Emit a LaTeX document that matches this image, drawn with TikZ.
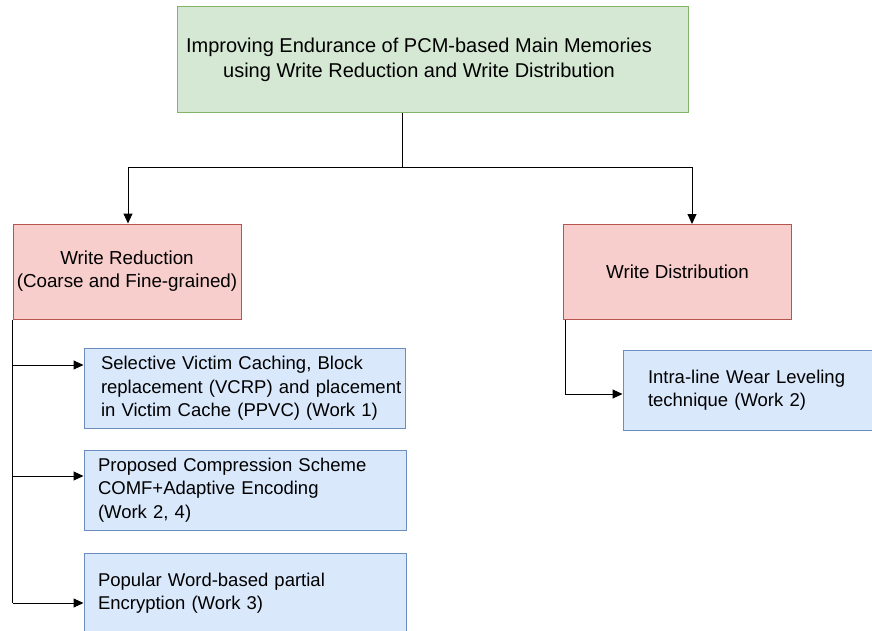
\documentclass[tikz,border=0pt]{standalone}
\usepackage{fontspec}
\setmainfont{Liberation Sans}
\usetikzlibrary{arrows.meta,positioning}
\definecolor{rootfill}{HTML}{D5E8D4}
\definecolor{rootdraw}{HTML}{82B366}
\definecolor{catfill}{HTML}{F8CECC}
\definecolor{catdraw}{HTML}{B85450}
\definecolor{workfill}{HTML}{DAE8FC}
\definecolor{workdraw}{HTML}{6C8EBF}
\tikzset{
	>={Triangle[length=10pt,width=9pt]},
	rootbox/.style={
		rectangle,
		fill=rootfill,
		draw=rootdraw, line width=1pt,
		minimum width=511pt,
		minimum height=106pt,
		font=\fontsize{20}{25}\selectfont,
		align=center},
	catbox/.style={
		rectangle,
		fill=catfill,
		draw=catdraw, line width=1pt,
		minimum width=228pt,
		minimum height=95pt,
		font=\fontsize{18.8}{23}\selectfont,
		align=center},
	workbox/.style={
		rectangle,
		fill=workfill,
		draw=workdraw, line width=1pt,
		inner xsep=15pt,
		minimum height=80pt,
		align=left},
	line/.style={draw, line width=1pt},
	arrow/.style={line, ->},
}

\begin{document}
\begin{tikzpicture}[x=1pt,y=-1pt,font=\fontsize{18.5}{23.5}\selectfont]
\useasboundingbox (0,0) rectangle (872,631);

\node[rootbox] (root) at (432.5,60) {Improving Endurance of PCM-based Main Memories\hspace*{27pt}\\using Write Reduction and Write Distribution\hspace*{27pt}};

\node[catbox] (wred) at (127,271.5) {Write Reduction\\(Coarse and Fine-grained)};
\node[catbox] (wdist) at (677.5,272) {Write Distribution};

% reduction side
\node[workbox, text width=287pt, inner xsep=17pt] (work1) at (244.5,388.5) {Selective Victim Caching, Block\\\mbox{replacement (VCRP) and placement}\\in Victim Cache (PPVC) (Work 1)};
\node[workbox, text width=294pt, inner xsep=14pt] (work2) at (245,490) {Proposed Compression Scheme\\COMF+Adaptive Encoding\\(Work 2, 4)};
\node[workbox, text width=294pt, inner xsep=14pt] (work3) at (245,593) {Popular Word-based partial\\Encryption (Work 3)};

% distribution side
\node[workbox, text width=200pt, inner xsep=25pt] (work4) at (748,390) {Intra-line Wear Leveling\\technique (Work 2)};

\coordinate (in1) at ([yshift=23.5pt]work1.west);
\coordinate (in2) at ([yshift=14pt]work2.west);
\coordinate (in3) at ([yshift=-10pt]work3.west);
\coordinate (in4) at ([yshift=-4pt]work4.west);

\draw[line] ([xshift=-30.5pt]root.south) -- ++(0,54) coordinate (split);
\draw[arrow] (split) -| ([xshift=1pt]wred.north);
\draw[arrow] (split) -| ([xshift=14.5pt]wdist.north);

\draw[line] (wred.south west) -- (wred.south west |- in3);
\draw[arrow] (wred.south west |- in1) -- (in1);
\draw[arrow] (wred.south west |- in2) -- (in2);
\draw[arrow] (wred.south west |- in3) -- (in3);

\draw[arrow] ([xshift=2pt]wdist.south west) |- (in4);
\end{tikzpicture}
\end{document}
